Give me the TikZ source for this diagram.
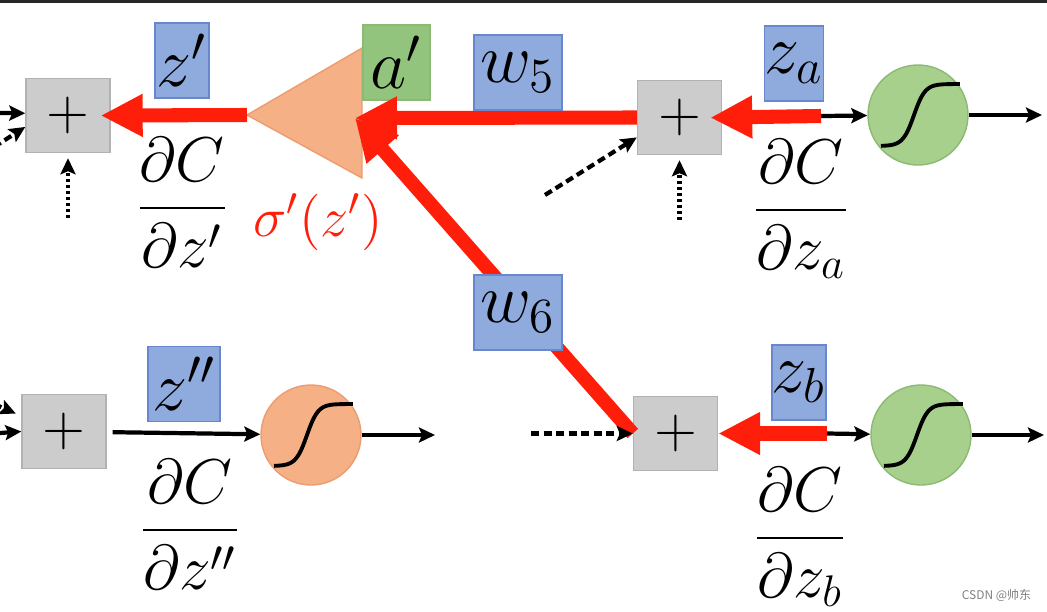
\RequirePackage{fix-cm}
\documentclass[tikz,border=0pt]{standalone}
\usepackage{amsmath}
\usepackage{fontspec}
\newfontfamily\cjk{Noto Sans CJK SC}
\usetikzlibrary{arrows.meta}
\definecolor{plusgray}{RGB}{204,204,204}
\definecolor{plusedge}{RGB}{178,178,178}
\definecolor{varblue}{RGB}{143,170,220}
\definecolor{varedge}{RGB}{105,135,205}
\definecolor{actgreen}{RGB}{168,208,141}
\definecolor{actedge}{RGB}{140,185,115}
\definecolor{boxgreen}{RGB}{147,196,125}
\definecolor{peach}{RGB}{246,176,134}
\definecolor{peachedge}{RGB}{236,156,112}
\definecolor{bpred}{RGB}{255,30,10}
\tikzstyle{plusbox}=[rectangle,fill=plusgray,draw=plusedge,minimum width=0.84cm,minimum height=0.74cm,inner sep=0pt,font=\fontsize{16}{18}\selectfont]
\tikzstyle{varbox}=[rectangle,fill=varblue,draw=varedge,minimum height=0.75cm,inner sep=0pt,font=\fontsize{20}{24}\selectfont]
\tikzstyle{neuron}=[circle,fill=actgreen,draw=actedge,minimum size=1cm,inner sep=0pt]
\tikzstyle{edge} = [draw,line width=1.2pt,-{Stealth[length=1.6mm,width=1.5mm,inset=0.3mm]}]
\tikzstyle{dashedge} = [dash pattern=on 0.8mm off 0.45mm]
\tikzstyle{dotedge} = [dash pattern=on 0.3mm off 0.3mm]
\tikzstyle{back} = [draw,bpred,line width=4pt,-{Triangle[length=4.2mm,width=4mm]}]
\tikzstyle{grad} = [anchor=base,font=\fontsize{18}{22}\selectfont]

\begin{document}
\begin{tikzpicture}[scale=1]

    \useasboundingbox (0,0) rectangle (10.47,6.11);
    \fill[black!85] (0,6.08) rectangle (10.47,6.11);

    % summation boxes
    \foreach \x/\y/\name in {0.68/4.955/p1, 6.795/4.935/pa, 0.64/1.795/p2, 6.755/1.775/pb}
        \node[plusbox] (\name) at (\x,\y) {$+$};

    % neurons
    \foreach \x/\y/\name in {9.18/4.96/sa, 9.21/1.76/sb}
        \node[neuron] (\name) at (\x,\y) {};
    \node[neuron, fill=peach, draw=peachedge] (sp) at (3.11,1.76) {};

    \foreach \n in {sa,sb,sp}
        \draw[line width=1.1pt, shift={(\n.center)}] plot[domain=-0.37:0.42, samples=40, smooth] (\x,{0.31*tanh(9*(\x+0.04))});

    % activation of z'
    \coordinate (tri) at (2.47,4.96);
    \filldraw[fill=peach, draw=peachedge] (tri) -- (3.62,5.63) -- (3.62,4.33) -- cycle;
    \node[varbox, fill=boxgreen, draw=actedge, minimum width=0.67cm] (ap) at (3.965,5.485) {$a'$};

    \coordinate (ain) at (3.55,4.93);
    \coordinate (ta) at (8.21,4.95);
    \coordinate (tb) at (8.27,1.775);
    \coordinate (oa) at (10.42,4.96);
    \coordinate (ob) at (10.44,1.76);
    \coordinate (op) at (4.35,1.76);
    \coordinate (da) at (5.45,4.16);
    \coordinate (db) at (5.31,1.775);
    \coordinate (dota) at (6.795,3.91);
    \coordinate (dot1) at (0.68,3.93);
    \coordinate (l1) at (0,4.98);
    \coordinate (l2) at (-0.06,4.64);
    \coordinate (l3) at (0,1.78);
    \coordinate (l4) at (-0.06,2.07);

    % backward pass
    \path[back] (pa.west) -- (ain);
    \path[back] (pb.west) -- (ain);
    \path[back, shorten >=-0.1cm] (tri) -- (p1.east);
    \path[back, shorten >=-0.12cm] (ta) -- (pa.east);
    \path[back] (tb) -- (pb.east);

    % forward pass
    \path[edge] (ta) -- (sa);
    \path[edge] (sa) -- (oa);
    \path[edge] (tb) -- (sb);
    \path[edge] (sb) -- (ob);
    \path[edge, shorten <=0.06cm] (p2) -- (sp);
    \path[edge] (sp) -- (op);
    \path[edge, dashedge] (da) -- (pa.205);
    \path[edge, dashedge] (db) -- (pb.west);
    \path[edge, dotedge, shorten >=0.05cm] (dota) -- (pa);
    \path[edge, dotedge, shorten >=0.05cm] (dot1) -- (p1);
    \path[edge] (l1) -- (p1.177);
    \path[edge, dashedge] (l2) -- (p1.195);
    \path[edge] (l3) -- (p2.west);
    \path[edge, dashedge, shorten >=0.06cm] (l4) -- (p2.160);

    % variables
    \foreach \x/\y/\w/\name/\txt in {1.82/5.505/0.54/zp/{z'}, 5.18/5.385/0.88/w5/{w_5}, 7.94/5.475/0.56/za/{z_a}, 5.18/2.985/0.88/w6/{w_6}, 1.84/2.27/0.72/zpp/{z''}, 7.99/2.285/0.54/zb/{z_b}}
        \node[varbox, minimum width=\w cm] (\name) at (\x,\y) {$\txt$};

    \node[text=bpred, font=\fontsize{16}{19}\selectfont] (sig) at (3.18,3.89) {$\sigma'(z')$};

    \node[grad] (gp) at (1.82,3.87) {$\dfrac{\partial C}{\partial z'}$};
    \node[grad] (ga) at (8.01,3.85) {$\dfrac{\partial C}{\partial z_a}$};
    \node[grad] (gpp) at (1.90,0.65) {$\dfrac{\partial C}{\partial z''}$};
    \node[grad] (gb) at (8.00,0.57) {$\dfrac{\partial C}{\partial z_b}$};

    \node[text=gray, font=\cjk\fontsize{3.4}{4}\selectfont] (wm) at (9.965,0.16) {CSDN @帅东};

\end{tikzpicture}
\end{document}
